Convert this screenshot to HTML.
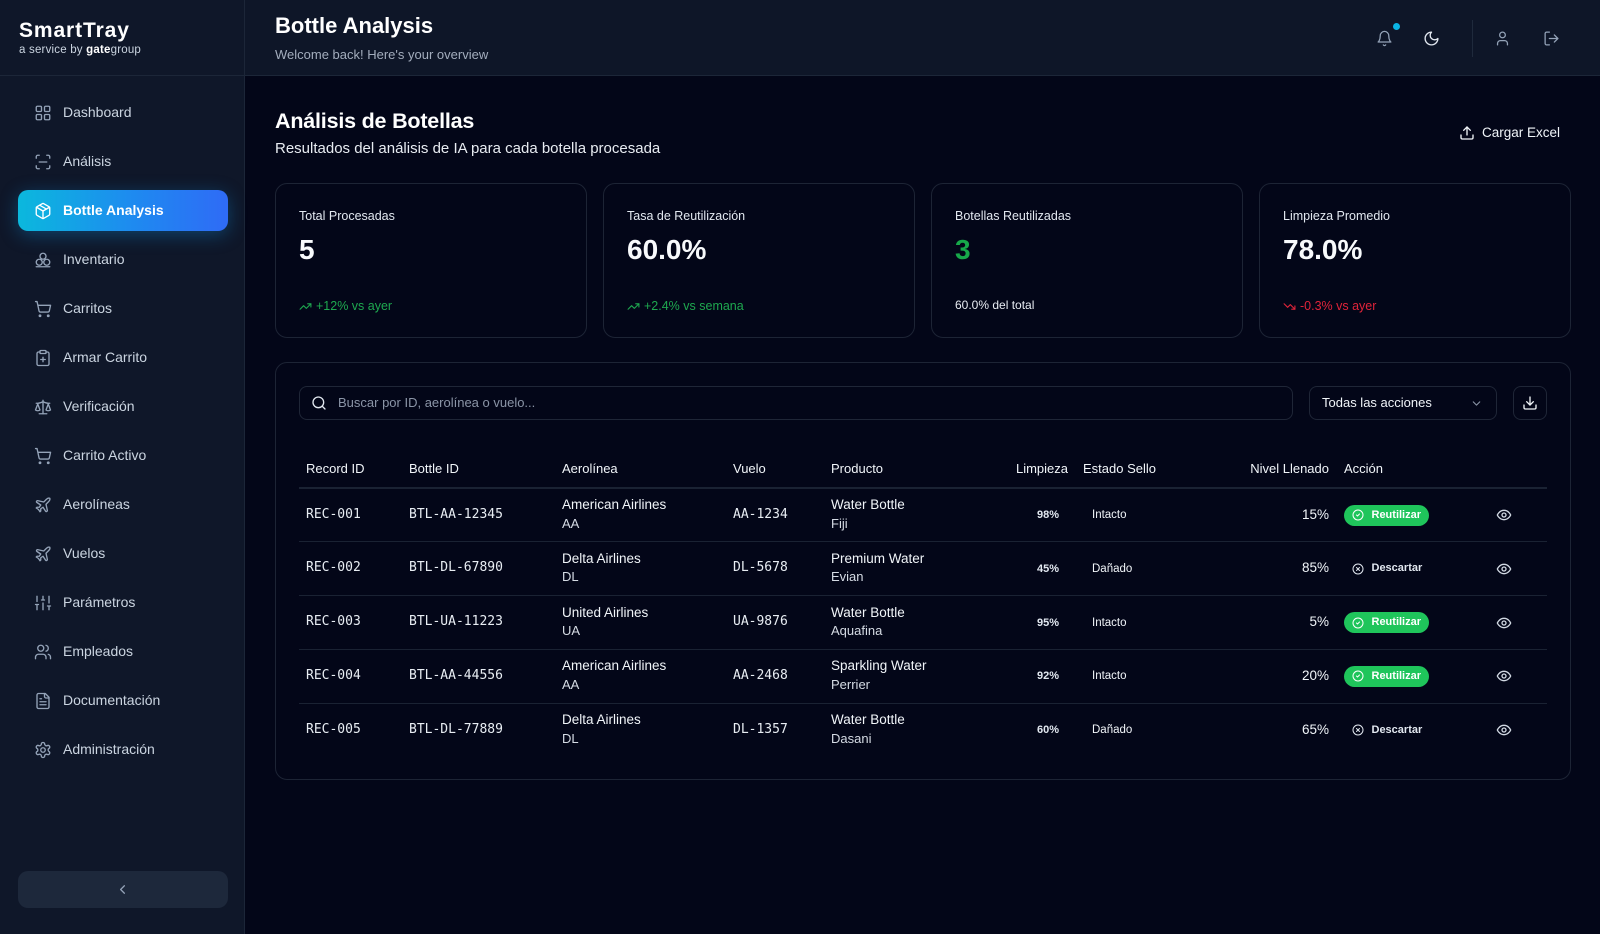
<!DOCTYPE html>
<html><head><meta charset="utf-8">
<style>
*{box-sizing:border-box;margin:0;padding:0}
body{width:1600px;height:934px;overflow:hidden;background:#030618;font-family:"Liberation Sans",sans-serif;color:#f1f5f9;position:relative}
.a{position:absolute;white-space:nowrap}
svg.i{fill:none;stroke:currentColor;stroke-width:2;stroke-linecap:round;stroke-linejoin:round;position:absolute}
#sb{position:absolute;left:0;top:0;width:245px;height:934px;background:#0f1729;border-right:1px solid #1c2638}
#sbh{position:absolute;left:0;top:0;width:244px;height:76px;border-bottom:1px solid #1c2638}
.nav{position:absolute;left:18px;width:210px;height:41px;border-radius:10px;color:#cbd5e1;font-size:14px}
.nav svg{left:16px;top:11.5px;width:18px;height:18px;color:#94a3b8;stroke-width:1.8}
.nav span{position:absolute;left:45px;top:0;line-height:41px}
.nav.act{background:linear-gradient(90deg,#0bb8dd 0%,#1e8af0 55%,#2f6bf6 100%);box-shadow:0 4px 18px rgba(14,150,233,.35);color:#fff;font-weight:bold}
.nav.act svg{color:#fff}
#hd{position:absolute;left:245px;top:0;width:1355px;height:76px;background:#0e1628;border-bottom:1px solid #1c2638}
.card{position:absolute;top:183px;width:312px;height:155px;border:1px solid #1d2435;border-radius:12px}
.card .l{position:absolute;left:23px;top:24px;font-size:12.5px;line-height:16px;color:#e2e8f0}
.card .v{position:absolute;left:23px;top:50px;font-size:28px;line-height:32px;font-weight:bold;color:#f8fafc}
.card .f{position:absolute;left:23px;top:114px;font-size:12.5px;line-height:16px}
.th{position:absolute;top:460px;font-size:13px;line-height:18px;color:#f1f5f9}
.hl{position:absolute;left:299px;width:1248px;height:1px;background:#1a2233}
.row{position:absolute;left:0;width:1600px;height:54px}
.m{position:absolute;top:17.5px;font-family:"DejaVu Sans Mono","Liberation Mono",monospace;font-size:13px;line-height:18px;color:#e8edf3}
.t1{position:absolute;top:8px;font-size:13.5px;line-height:18px;color:#f1f5f9}
.t2{position:absolute;top:26.5px;font-size:13px;line-height:18px;color:#d5dbe4}
.li{position:absolute;left:1000px;width:59px;text-align:right;top:18px;font-size:11px;font-weight:bold;line-height:18px;color:#e2e8f0}
.es{position:absolute;left:1092px;top:18px;font-size:11.5px;line-height:18px;color:#f1f5f9}
.ni{position:absolute;left:1250px;width:79px;text-align:right;top:17.5px;font-size:13.5px;line-height:18px;color:#f1f5f9}
.bd{position:absolute;left:1344px;top:16.7px;width:85px;height:21px;border-radius:11px;background:#1fc55b;color:#fff;font-size:11px;font-weight:bold}
.bd svg{left:8px;top:4.5px;width:12px;height:12px;stroke-width:2}
.bd span{position:absolute;left:27.5px;top:0;line-height:21px}
.ds{position:absolute;left:1344px;top:16.7px;width:85px;height:21px;color:#e2e8f0;font-size:11px;font-weight:bold}
.ds svg{left:8px;top:4.5px;width:12px;height:12px;stroke-width:2}
.ds span{position:absolute;left:27.5px;top:0;line-height:21px}
.eye{left:1496px;top:19px;width:16px;height:16px;color:#d1d8e2}
</style></head><body>

<!-- SIDEBAR -->
<div id="sb">
  <div id="sbh">
    <div class="a" style="left:19px;top:19px;font-size:21px;line-height:24px;font-weight:bold;letter-spacing:0.9px;color:#fff">SmartTray</div>
    <div class="a" style="left:19px;top:42px;font-size:11.5px;line-height:16px;color:#cbd5e1;letter-spacing:0.2px">a service by <b style="color:#fff">gate</b>group</div>
  </div>

  <div class="nav" style="top:92px"><svg class="i" viewBox="0 0 24 24"><rect width="7" height="7" x="3" y="3" rx="1.5"/><rect width="7" height="7" x="14" y="3" rx="1.5"/><rect width="7" height="7" x="14" y="14" rx="1.5"/><rect width="7" height="7" x="3" y="14" rx="1.5"/></svg><span>Dashboard</span></div>
  <div class="nav" style="top:141px"><svg class="i" viewBox="0 0 24 24"><path d="M3 7V5a2 2 0 0 1 2-2h2"/><path d="M17 3h2a2 2 0 0 1 2 2v2"/><path d="M21 17v2a2 2 0 0 1-2 2h-2"/><path d="M7 21H5a2 2 0 0 1-2-2v-2"/><path d="M7 12h10"/></svg><span>Análisis</span></div>
  <div class="nav act" style="top:190px"><svg class="i" viewBox="0 0 24 24"><path d="m7.5 4.27 9 5.15"/><path d="M21 8a2 2 0 0 0-1-1.73l-7-4a2 2 0 0 0-2 0l-7 4A2 2 0 0 0 3 8v8a2 2 0 0 0 1 1.73l7 4a2 2 0 0 0 2 0l7-4A2 2 0 0 0 21 16Z"/><path d="m3.3 7 8.7 5 8.7-5"/><path d="M12 22V12"/></svg><span>Bottle Analysis</span></div>
  <div class="nav" style="top:239px"><svg class="i" viewBox="0 0 24 24"><circle cx="12" cy="7" r="4"/><circle cx="7" cy="15" r="4"/><circle cx="17" cy="15" r="4"/><path d="M3 21h18"/></svg><span>Inventario</span></div>
  <div class="nav" style="top:288px"><svg class="i" viewBox="0 0 24 24"><circle cx="8" cy="21" r="1"/><circle cx="19" cy="21" r="1"/><path d="M2.05 2.05h2l2.66 12.42a2 2 0 0 0 2 1.58h9.78a2 2 0 0 0 1.95-1.57l1.65-7.43H5.12"/></svg><span>Carritos</span></div>
  <div class="nav" style="top:337px"><svg class="i" viewBox="0 0 24 24"><rect width="8" height="4" x="8" y="2" rx="1"/><path d="M16 4h2a2 2 0 0 1 2 2v14a2 2 0 0 1-2 2H6a2 2 0 0 1-2-2V6a2 2 0 0 1 2-2h2"/><path d="M9 14h6"/><path d="M12 17v-6"/></svg><span>Armar Carrito</span></div>
  <div class="nav" style="top:386px"><svg class="i" viewBox="0 0 24 24"><path d="m16 16 3-8 3 8c-.87.65-1.92 1-3 1s-2.13-.35-3-1Z"/><path d="m2 16 3-8 3 8c-.87.65-1.92 1-3 1s-2.13-.35-3-1Z"/><path d="M7 21h10"/><path d="M12 3v18"/><path d="M3 7h2c2 0 5-1 7-2 2 1 5 2 7 2h2"/></svg><span>Verificación</span></div>
  <div class="nav" style="top:435px"><svg class="i" viewBox="0 0 24 24"><circle cx="8" cy="21" r="1"/><circle cx="19" cy="21" r="1"/><path d="M2.05 2.05h2l2.66 12.42a2 2 0 0 0 2 1.58h9.78a2 2 0 0 0 1.95-1.57l1.65-7.43H5.12"/></svg><span>Carrito Activo</span></div>
  <div class="nav" style="top:484px"><svg class="i" viewBox="0 0 24 24"><path d="M17.8 19.2 16 11l3.5-3.5C21 6 21.5 4 21 3c-1-.5-3 0-4.5 1.5L13 8 4.8 6.2c-.5-.1-.9.1-1.1.5l-.3.5c-.2.5-.1 1 .3 1.3L9 12l-2 3H4l-1 1 3 2 2 3 1-1v-3l3-2 3.5 5.3c.3.4.8.5 1.3.3l.5-.2c.4-.3.6-.7.5-1.2z"/></svg><span>Aerolíneas</span></div>
  <div class="nav" style="top:533px"><svg class="i" viewBox="0 0 24 24"><path d="M17.8 19.2 16 11l3.5-3.5C21 6 21.5 4 21 3c-1-.5-3 0-4.5 1.5L13 8 4.8 6.2c-.5-.1-.9.1-1.1.5l-.3.5c-.2.5-.1 1 .3 1.3L9 12l-2 3H4l-1 1 3 2 2 3 1-1v-3l3-2 3.5 5.3c.3.4.8.5 1.3.3l.5-.2c.4-.3.6-.7.5-1.2z"/></svg><span>Vuelos</span></div>
  <div class="nav" style="top:582px"><svg class="i" viewBox="0 0 24 24"><line x1="4" x2="4" y1="21" y2="14"/><line x1="4" x2="4" y1="10" y2="3"/><line x1="12" x2="12" y1="21" y2="12"/><line x1="12" x2="12" y1="8" y2="3"/><line x1="20" x2="20" y1="21" y2="16"/><line x1="20" x2="20" y1="12" y2="3"/><line x1="2" x2="6" y1="14" y2="14"/><line x1="10" x2="14" y1="8" y2="8"/><line x1="18" x2="22" y1="16" y2="16"/></svg><span>Parámetros</span></div>
  <div class="nav" style="top:631px"><svg class="i" viewBox="0 0 24 24"><path d="M16 21v-2a4 4 0 0 0-4-4H6a4 4 0 0 0-4 4v2"/><circle cx="9" cy="7" r="4"/><path d="M22 21v-2a4 4 0 0 0-3-3.87"/><path d="M16 3.13a4 4 0 0 1 0 7.75"/></svg><span>Empleados</span></div>
  <div class="nav" style="top:680px"><svg class="i" viewBox="0 0 24 24"><path d="M15 2H6a2 2 0 0 0-2 2v16a2 2 0 0 0 2 2h12a2 2 0 0 0 2-2V7Z"/><path d="M14 2v4a2 2 0 0 0 2 2h4"/><path d="M10 9H8"/><path d="M16 13H8"/><path d="M16 17H8"/></svg><span>Documentación</span></div>
  <div class="nav" style="top:729px"><svg class="i" viewBox="0 0 24 24"><path d="M12.22 2h-.44a2 2 0 0 0-2 2v.18a2 2 0 0 1-1 1.73l-.43.25a2 2 0 0 1-2 0l-.15-.08a2 2 0 0 0-2.73.73l-.22.38a2 2 0 0 0 .73 2.73l.15.1a2 2 0 0 1 1 1.72v.51a2 2 0 0 1-1 1.74l-.15.09a2 2 0 0 0-.73 2.73l.22.38a2 2 0 0 0 2.73.73l.15-.08a2 2 0 0 1 2 0l.43.25a2 2 0 0 1 1 1.73V20a2 2 0 0 0 2 2h.44a2 2 0 0 0 2-2v-.18a2 2 0 0 1 1-1.73l.43-.25a2 2 0 0 1 2 0l.15.08a2 2 0 0 0 2.73-.73l.22-.39a2 2 0 0 0-.73-2.73l-.15-.08a2 2 0 0 1-1-1.74v-.5a2 2 0 0 1 1-1.74l.15-.09a2 2 0 0 0 .73-2.73l-.22-.38a2 2 0 0 0-2.73-.73l-.15.08a2 2 0 0 1-2 0l-.43-.25a2 2 0 0 1-1-1.73V4a2 2 0 0 0-2-2z"/><circle cx="12" cy="12" r="3"/></svg><span>Administración</span></div>

  <div class="a" style="left:18px;top:871px;width:210px;height:37px;border-radius:10px;background:#1d283b">
    <svg class="i" viewBox="0 0 24 24" style="left:97px;top:11px;width:15px;height:15px;color:#94a3b8"><path d="m15 18-6-6 6-6"/></svg>
  </div>
</div>

<!-- HEADER -->
<div id="hd"></div>
<div class="a" style="left:275px;top:13px;font-size:22px;line-height:26px;font-weight:bold;color:#fff">Bottle Analysis</div>
<div class="a" style="left:275px;top:47px;font-size:13px;line-height:16px;color:#a3adbd">Welcome back! Here's your overview</div>
<svg class="i" viewBox="0 0 24 24" style="left:1376px;top:30px;width:17px;height:17px;color:#94a3b8;stroke-width:1.8"><path d="M6 8a6 6 0 0 1 12 0c0 7 3 9 3 9H3s3-2 3-9"/><path d="M10.3 21a1.94 1.94 0 0 0 3.4 0"/></svg>
<div class="a" style="left:1392.5px;top:23px;width:7px;height:7px;border-radius:50%;background:#0ab4e4"></div>
<svg class="i" viewBox="0 0 24 24" style="left:1423px;top:29.5px;width:17px;height:17px;color:#e2e8f0;stroke-width:1.9"><path d="M12 3a6 6 0 0 0 9 9 9 9 0 1 1-9-9Z"/></svg>
<div class="a" style="left:1471.5px;top:20px;width:1px;height:37px;background:#1f2a3c"></div>
<svg class="i" viewBox="0 0 24 24" style="left:1494px;top:30px;width:17px;height:17px;color:#94a3b8;stroke-width:1.8"><path d="M19 21v-2a4 4 0 0 0-4-4H9a4 4 0 0 0-4 4v2"/><circle cx="12" cy="7" r="4"/></svg>
<svg class="i" viewBox="0 0 24 24" style="left:1543px;top:30px;width:17px;height:17px;color:#94a3b8;stroke-width:1.8"><path d="M9 21H5a2 2 0 0 1-2-2V5a2 2 0 0 1 2-2h4"/><polyline points="16 17 21 12 16 7"/><line x1="21" x2="9" y1="12" y2="12"/></svg>

<!-- PAGE TITLE -->
<div class="a" style="left:275px;top:108px;font-size:21.5px;line-height:26px;font-weight:bold;color:#fff;letter-spacing:-0.2px">Análisis de Botellas</div>
<div class="a" style="left:275px;top:139px;font-size:15px;line-height:20px;color:#e8ecf2">Resultados del análisis de IA para cada botella procesada</div>
<svg class="i" viewBox="0 0 24 24" style="left:1459px;top:125px;width:16px;height:16px;color:#f1f5f9;stroke-width:2"><path d="M21 15v4a2 2 0 0 1-2 2H5a2 2 0 0 1-2-2v-4"/><polyline points="17 8 12 3 7 8"/><line x1="12" x2="12" y1="3" y2="15"/></svg>
<div class="a" style="left:1482px;top:124px;font-size:13.5px;line-height:18px;color:#f1f5f9">Cargar Excel</div>

<!-- STAT CARDS -->
<div class="card" style="left:275px">
  <div class="l">Total Procesadas</div>
  <div class="v">5</div>
  <div class="f" style="color:#1ea84f"><svg class="i" viewBox="0 0 24 24" style="left:0;top:2px;width:13px;height:13px"><polyline points="22 7 13.5 15.5 8.5 10.5 2 17"/><polyline points="16 7 22 7 22 13"/></svg><span style="margin-left:17px">+12% vs ayer</span></div>
</div>
<div class="card" style="left:603px">
  <div class="l">Tasa de Reutilización</div>
  <div class="v">60.0%</div>
  <div class="f" style="color:#1ea84f"><svg class="i" viewBox="0 0 24 24" style="left:0;top:2px;width:13px;height:13px"><polyline points="22 7 13.5 15.5 8.5 10.5 2 17"/><polyline points="16 7 22 7 22 13"/></svg><span style="margin-left:17px">+2.4% vs semana</span></div>
</div>
<div class="card" style="left:931px">
  <div class="l">Botellas Reutilizadas</div>
  <div class="v" style="color:#17a84a">3</div>
  <div class="f" style="color:#e8ecf2;font-size:12px;top:113px">60.0% del total</div>
</div>
<div class="card" style="left:1259px">
  <div class="l">Limpieza Promedio</div>
  <div class="v">78.0%</div>
  <div class="f" style="color:#e0243a"><svg class="i" viewBox="0 0 24 24" style="left:0;top:2px;width:13px;height:13px"><polyline points="22 17 13.5 8.5 8.5 13.5 2 7"/><polyline points="16 17 22 17 22 11"/></svg><span style="margin-left:17px">-0.3% vs ayer</span></div>
</div>

<!-- TABLE CARD -->
<div class="a" style="left:275px;top:362px;width:1296px;height:418px;border:1px solid #1d2435;border-radius:12px"></div>
<div class="a" style="left:299px;top:386px;width:994px;height:34px;border:1px solid #1f2637;border-radius:8px">
  <svg class="i" viewBox="0 0 24 24" style="left:11px;top:8px;width:16px;height:16px;color:#e2e8f0"><circle cx="11" cy="11" r="8"/><path d="m21 21-4.3-4.3"/></svg>
  <div class="a" style="left:38px;top:8px;font-size:13px;line-height:16px;color:#8b95a7">Buscar por ID, aerolínea o vuelo...</div>
</div>
<div class="a" style="left:1309px;top:386px;width:188px;height:34px;border:1px solid #1f2637;border-radius:8px">
  <div class="a" style="left:12px;top:8px;font-size:13px;line-height:16px;color:#f1f5f9">Todas las acciones</div>
  <svg class="i" viewBox="0 0 24 24" style="left:160px;top:10px;width:13px;height:13px;color:#8b95a7"><path d="m6 9 6 6 6-6"/></svg>
</div>
<div class="a" style="left:1513px;top:386px;width:34px;height:34px;border:1px solid #1f2637;border-radius:8px">
  <svg class="i" viewBox="0 0 24 24" style="left:8px;top:8px;width:16px;height:16px;color:#f1f5f9"><path d="M21 15v4a2 2 0 0 1-2 2H5a2 2 0 0 1-2-2v-4"/><polyline points="7 10 12 15 17 10"/><line x1="12" x2="12" y1="15" y2="3"/></svg>
</div>

<!-- TABLE HEADER -->
<div class="th" style="left:306px">Record ID</div>
<div class="th" style="left:409px">Bottle ID</div>
<div class="th" style="left:562px">Aerolínea</div>
<div class="th" style="left:733px">Vuelo</div>
<div class="th" style="left:831px">Producto</div>
<div class="th" style="left:990px;width:78px;text-align:right">Limpieza</div>
<div class="th" style="left:1083px">Estado Sello</div>
<div class="th" style="left:1220px;width:109px;text-align:right">Nivel Llenado</div>
<div class="th" style="left:1344px">Acción</div>

<div class="hl" style="top:487px;height:1.5px"></div>
<div class="hl" style="top:541px"></div>
<div class="hl" style="top:595px"></div>
<div class="hl" style="top:649px"></div>
<div class="hl" style="top:702.5px"></div>

<!-- ROWS -->
<div class="row" style="top:488px">
  <div class="m" style="left:306px">REC-001</div>
  <div class="m" style="left:409px">BTL-AA-12345</div>
  <div class="t1" style="left:562px">American Airlines</div><div class="t2" style="left:562px">AA</div>
  <div class="m" style="left:733px">AA-1234</div>
  <div class="t1" style="left:831px">Water Bottle</div><div class="t2" style="left:831px">Fiji</div>
  <div class="li">98%</div>
  <div class="es">Intacto</div>
  <div class="ni">15%</div>
  <div class="bd"><svg class="i" viewBox="0 0 24 24"><circle cx="12" cy="12" r="10"/><path d="m9 12 2 2 4-4"/></svg><span>Reutilizar</span></div>
  <svg class="i eye" viewBox="0 0 24 24"><path d="M2 12s3-7 10-7 10 7 10 7-3 7-10 7-10-7-10-7Z"/><circle cx="12" cy="12" r="3"/></svg>
</div>
<div class="row" style="top:541.75px">
  <div class="m" style="left:306px">REC-002</div>
  <div class="m" style="left:409px">BTL-DL-67890</div>
  <div class="t1" style="left:562px">Delta Airlines</div><div class="t2" style="left:562px">DL</div>
  <div class="m" style="left:733px">DL-5678</div>
  <div class="t1" style="left:831px">Premium Water</div><div class="t2" style="left:831px">Evian</div>
  <div class="li">45%</div>
  <div class="es">Dañado</div>
  <div class="ni">85%</div>
  <div class="ds"><svg class="i" viewBox="0 0 24 24"><circle cx="12" cy="12" r="10"/><path d="m15 9-6 6"/><path d="m9 9 6 6"/></svg><span>Descartar</span></div>
  <svg class="i eye" viewBox="0 0 24 24"><path d="M2 12s3-7 10-7 10 7 10 7-3 7-10 7-10-7-10-7Z"/><circle cx="12" cy="12" r="3"/></svg>
</div>
<div class="row" style="top:595.5px">
  <div class="m" style="left:306px">REC-003</div>
  <div class="m" style="left:409px">BTL-UA-11223</div>
  <div class="t1" style="left:562px">United Airlines</div><div class="t2" style="left:562px">UA</div>
  <div class="m" style="left:733px">UA-9876</div>
  <div class="t1" style="left:831px">Water Bottle</div><div class="t2" style="left:831px">Aquafina</div>
  <div class="li">95%</div>
  <div class="es">Intacto</div>
  <div class="ni">5%</div>
  <div class="bd"><svg class="i" viewBox="0 0 24 24"><circle cx="12" cy="12" r="10"/><path d="m9 12 2 2 4-4"/></svg><span>Reutilizar</span></div>
  <svg class="i eye" viewBox="0 0 24 24"><path d="M2 12s3-7 10-7 10 7 10 7-3 7-10 7-10-7-10-7Z"/><circle cx="12" cy="12" r="3"/></svg>
</div>
<div class="row" style="top:649.25px">
  <div class="m" style="left:306px">REC-004</div>
  <div class="m" style="left:409px">BTL-AA-44556</div>
  <div class="t1" style="left:562px">American Airlines</div><div class="t2" style="left:562px">AA</div>
  <div class="m" style="left:733px">AA-2468</div>
  <div class="t1" style="left:831px">Sparkling Water</div><div class="t2" style="left:831px">Perrier</div>
  <div class="li">92%</div>
  <div class="es">Intacto</div>
  <div class="ni">20%</div>
  <div class="bd"><svg class="i" viewBox="0 0 24 24"><circle cx="12" cy="12" r="10"/><path d="m9 12 2 2 4-4"/></svg><span>Reutilizar</span></div>
  <svg class="i eye" viewBox="0 0 24 24"><path d="M2 12s3-7 10-7 10 7 10 7-3 7-10 7-10-7-10-7Z"/><circle cx="12" cy="12" r="3"/></svg>
</div>
<div class="row" style="top:703px">
  <div class="m" style="left:306px">REC-005</div>
  <div class="m" style="left:409px">BTL-DL-77889</div>
  <div class="t1" style="left:562px">Delta Airlines</div><div class="t2" style="left:562px">DL</div>
  <div class="m" style="left:733px">DL-1357</div>
  <div class="t1" style="left:831px">Water Bottle</div><div class="t2" style="left:831px">Dasani</div>
  <div class="li">60%</div>
  <div class="es">Dañado</div>
  <div class="ni">65%</div>
  <div class="ds"><svg class="i" viewBox="0 0 24 24"><circle cx="12" cy="12" r="10"/><path d="m15 9-6 6"/><path d="m9 9 6 6"/></svg><span>Descartar</span></div>
  <svg class="i eye" viewBox="0 0 24 24"><path d="M2 12s3-7 10-7 10 7 10 7-3 7-10 7-10-7-10-7Z"/><circle cx="12" cy="12" r="3"/></svg>
</div>

</body></html>
